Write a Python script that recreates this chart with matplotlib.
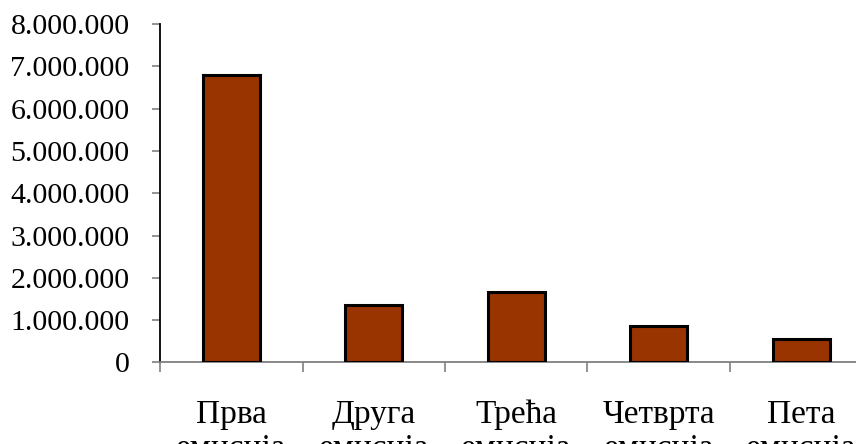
import numpy as np
import matplotlib.pyplot as plt
from matplotlib.ticker import FuncFormatter

# ── data ──────────────────────────────────────────────────────────────
categories = ['Прва\nемисија', 'Друга\nемисија', 'Трећа\nемисија',
              'Четврта\nемисија', 'Пета\nемисија']
values = [6800000, 1360000, 1670000, 860000, 560000]
y_ticks = [0, 1000000, 2000000, 3000000, 4000000,
           5000000, 6000000, 7000000, 8000000]

plt.rcParams['font.family'] = ['Liberation Serif', 'DejaVu Serif']

fig = plt.figure(figsize=(8.56, 4.44), dpi=100)
ax = fig.add_axes([0.187, 0.1836, 0.832, 0.7624])

x = np.arange(len(categories))
ax.bar(x, values, width=0.4, color='#993300', edgecolor='black',
       linewidth=2.2, zorder=3)

ax.set_xlim(-0.5, len(categories) - 0.5)
ax.set_ylim(0, 8000000)

ax.set_yticks(y_ticks)
ax.yaxis.set_major_formatter(
    FuncFormatter(lambda v, p: f"{int(v):,}".replace(',', '.')))
ax.tick_params(axis='y', direction='out', length=6, width=1.2,
               color='#808080', labelsize=21.5, pad=16)

# major ticks between categories, labels on minor ticks at bar centres
ax.set_xticks(np.arange(-0.5, len(categories), 1.0))
ax.set_xticklabels([])
ax.tick_params(axis='x', which='major', direction='out', length=7,
               width=1.2, color='#808080')
ax.set_xticks(x, minor=True)
ax.set_xticklabels(categories, minor=True, fontsize=24, linespacing=1.15)
ax.tick_params(axis='x', which='minor', length=0, pad=26.5)

for s in ['top', 'right']:
    ax.spines[s].set_visible(False)
ax.spines['left'].set_color('black')
ax.spines['left'].set_linewidth(1.3)
ax.spines['bottom'].set_color('#808080')
ax.spines['bottom'].set_linewidth(1.3)

fig.savefig('out.png', dpi=100)
